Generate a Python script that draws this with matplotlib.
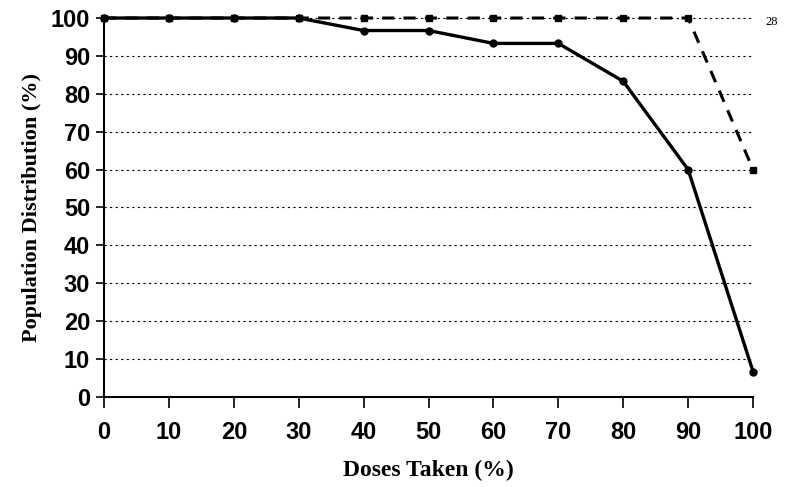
import matplotlib
matplotlib.use("Agg")
import matplotlib.pyplot as plt

# data
doses_taken = [0, 10, 20, 30, 40, 50, 60, 70, 80, 90, 100]
pop_solid = [100, 100, 100, 100, 96.7, 96.7, 93.3, 93.3, 83.3, 60, 6.7]
pop_dashed = [100, 100, 100, 100, 100, 100, 100, 100, 100, 100, 60]
y_ticks = [0, 10, 20, 30, 40, 50, 60, 70, 80, 90, 100]

fig = plt.figure(figsize=(7.91, 4.87), dpi=100)
ax = fig.add_axes([0.1315, 0.185, 0.8205, 0.778])

# grid lines
for y in y_ticks[1:]:
    ax.axhline(y, color="black", linestyle=(0, (2, 3)), linewidth=0.8, zorder=1)

ax.plot(doses_taken, pop_dashed, color="black", linestyle=(0, (4, 3)),
        linewidth=2.2, marker="s", markersize=5, zorder=2)
ax.plot(doses_taken, pop_solid, color="black", linestyle="-",
        linewidth=2.4, marker="o", markersize=5, zorder=3)

ax.set_xlim(0, 100)
ax.set_ylim(0, 100)
ax.set_xticks(doses_taken)
ax.set_yticks(y_ticks)

for s in ["top", "right"]:
    ax.spines[s].set_visible(False)
for s in ["left", "bottom"]:
    ax.spines[s].set_linewidth(1.5)
ax.spines["bottom"].set_zorder(4)

ax.tick_params(axis="x", direction="out", length=8, width=1.2, pad=9)
ax.tick_params(axis="y", direction="out", length=6, width=1.2, pad=4)
for lbl in ax.get_xticklabels() + ax.get_yticklabels():
    lbl.set_fontfamily("Liberation Sans")
    lbl.set_fontweight("bold")
    lbl.set_fontsize(17)

ax.set_xlabel("Doses Taken (%)", fontfamily="Liberation Serif",
              fontweight="bold", fontsize=17, labelpad=12)
ax.set_ylabel("Population Distribution (%)", fontfamily="Liberation Serif",
              fontweight="bold", fontsize=16, labelpad=6)

fig.text(0.975, 0.955, "28", fontfamily="Liberation Serif", fontsize=9,
         ha="center", va="center")

for line in ax.lines:
    line.set_clip_on(False)

fig.savefig("out.png", dpi=100)
